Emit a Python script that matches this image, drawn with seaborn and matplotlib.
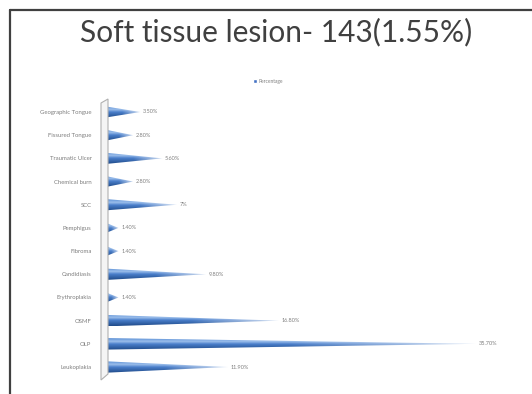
import numpy as np
import pandas as pd
import matplotlib
matplotlib.use("Agg")
import matplotlib.pyplot as plt
import seaborn as sns
from matplotlib.patches import Polygon, Patch
from matplotlib.lines import Line2D
from matplotlib.colors import to_rgb

# ---- data ----
title = "Soft tissue lesion- 143(1.55%)"
series_name = "Percentage"
lesions = ["Geographic Tongue", "Fissured Tongue", "Traumatic Ulcer", "Chemical burn",
           "SCC", "Pemphigus", "Fibroma", "Candidiasis", "Erythroplakia",
           "OSMF", "OLP", "Leukoplakia"]
percent = [3.5, 2.8, 5.6, 2.8, 7.0, 1.4, 1.4, 9.8, 1.4, 16.8, 35.7, 11.9]

df = pd.DataFrame({"lesion": lesions, "percent": percent, "series": series_name})

W, H = 532, 394
sns.set_theme(style="white")
plt.rcParams["font.family"] = ["Lato", "DejaVu Sans"]

fig = plt.figure(figsize=(W / 100, H / 100), dpi=100)
fig.patch.set_facecolor("white")

# plot area in pixels
left_px, right_px = 104, 104 + 40 * 10.42
top_px, bot_px = 100.4, 378.6
ax = fig.add_axes([left_px / W, 1 - bot_px / H, (right_px - left_px) / W, (bot_px - top_px) / H])

sns.barplot(data=df, y="lesion", x="percent", hue="series", orient="h",
            width=0.5, ax=ax, legend=False)

ax.set_xlim(0, 40)
ax.set_ylim(11.5, -0.5)

# cone shading: vertical colour profile and fade toward the tip
stops = [(0.0, "#5B8FD6"), (0.28, "#9CBFEB"), (0.5, "#4A7FCB"), (1.0, "#1F4A88")]
nv, nh = 64, 200
tv = np.linspace(0, 1, nv)
prof = np.zeros((nv, 3))
for c in range(3):
    prof[:, c] = np.interp(tv, [s[0] for s in stops], [to_rgb(s[1])[c] for s in stops])
u = np.linspace(0, 1, nh)
alpha = 1 - 0.75 * np.clip((u - 0.5) / 0.5, 0, 1)
img = np.zeros((nv, nh, 4))
img[:, :, :3] = prof[:, None, :]
img[:, :, 3] = alpha[None, :]

for patch, val in zip(ax.patches, percent):
    x0 = patch.get_x()
    w = patch.get_width()
    y = patch.get_y()
    h = patch.get_height()
    patch.set_visible(False)
    tri = Polygon([(x0, y), (x0, y + h), (x0 + w, y + h / 2)], closed=True,
                  facecolor="none", edgecolor="none")
    ax.add_patch(tri)
    im = ax.imshow(img, extent=(x0, x0 + w, y + h, y), aspect="auto",
                   interpolation="bilinear", zorder=3)
    im.set_clip_path(tri)
    lab = f"{val:.0f}%" if float(val).is_integer() else f"{val:.2f}%"
    ax.annotate(lab, (x0 + w, y + h / 2), xytext=(2, 0), textcoords="offset points",
                va="center", ha="left", fontsize=4, color="#7F7F7F")

ax.set_xlim(0, 40)
ax.set_ylim(11.5, -0.5)
ax.set_xlabel("")
ax.set_ylabel("")
ax.set_xticks([])
ax.tick_params(axis="y", length=0, pad=9, labelsize=4.3, labelcolor="#7F7F7F")
for s in ax.spines.values():
    s.set_visible(False)
ax.patch.set_alpha(0)

# side wall of the 3D plot area
def fx(px):
    return px / W

def fy(py):
    return 1 - py / H

wall = Polygon([(fx(101), fy(103)), (fx(108), fy(99)), (fx(108), fy(374)), (fx(101), fy(380))],
               closed=True, transform=fig.transFigure, facecolor="#F4F4F4",
               edgecolor="#B0B0B0", linewidth=0.8, zorder=0)
fig.patches.append(wall)

# legend
ax.legend(handles=[Patch(facecolor="#4472C4")], labels=[series_name], loc="center",
          bbox_to_anchor=(fx(268), fy(81)), bbox_transform=fig.transFigure,
          frameon=False, fontsize=3.5, handlelength=0.7, handleheight=0.7,
          handletextpad=0.3, labelcolor="#7F7F7F")

# title
fig.text(fx(276), fy(32), title, ha="center", va="center", fontsize=21.5, color="#404040")

# frame lines
fig.add_artist(Line2D([fx(10), fx(532)], [fy(10), fy(10)], transform=fig.transFigure,
                      color="#404040", linewidth=1.6))
fig.add_artist(Line2D([fx(10), fx(10)], [fy(10), fy(394)], transform=fig.transFigure,
                      color="#404040", linewidth=1.6))

fig.savefig("out.png", dpi=100)
